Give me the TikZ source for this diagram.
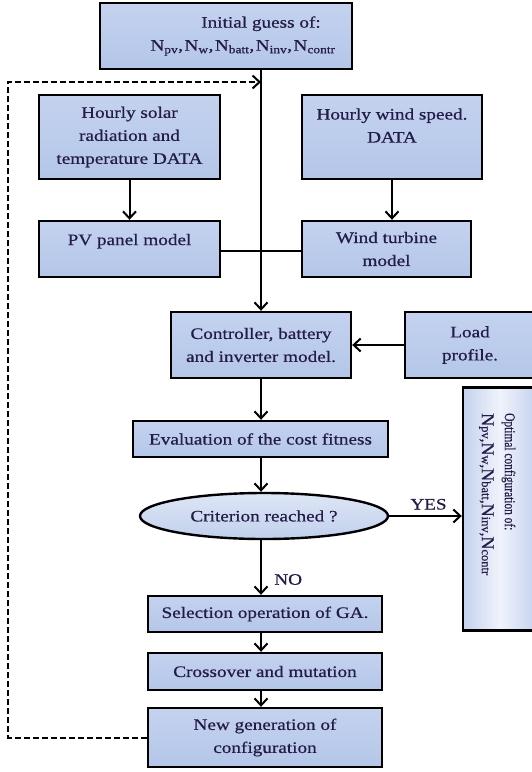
\documentclass[tikz,border=0pt]{standalone}
\usepackage{fontspec}
\setmainfont[FakeStretch=1.2,FakeBold=0.6]{Liberation Serif}
\newfontfamily\condf[FakeStretch=0.76,FakeBold=0.5]{Liberation Serif}
\newfontfamily\plainf[FakeBold=0.5]{Liberation Serif}
\usetikzlibrary{arrows.meta,shapes.geometric}
\definecolor{boxtop}{RGB}{196,210,238}
\definecolor{boxmid}{RGB}{240,243,251}
\definecolor{boxbot}{RGB}{180,198,233}
\definecolor{elltop}{RGB}{222,230,245}
\definecolor{ellfill}{RGB}{192,208,236}
\definecolor{txt}{RGB}{35,28,72}
\newcommand{\bigN}[1]{{\fontsize{18}{18}\selectfont N}{\fontsize{12.5}{12.5}\selectfont #1}}
\begin{document}
\begin{tikzpicture}[x=1pt,y=-1pt,
  every node/.style={font=\fontsize{16}{23}\selectfont, text=txt},
  fbox/.style={draw=black, line width=2.4pt, top color=boxtop, middle color=boxmid, bottom color=boxbot,
    align=center, inner sep=0pt, rectangle},
  conn/.style={line width=2pt, -{Straight Barb[length=7pt,width=13pt,line width=2pt]}},
  plain/.style={line width=2pt},
  dashconn/.style={line width=2pt, dash pattern=on 6pt off 3pt,
    -{Straight Barb[length=7pt,width=13pt,line width=2pt]}}]
\useasboundingbox (0,0) rectangle (531,772);

\node[fbox, minimum width=252pt, minimum height=66pt] (init) at (226,36) {};
\node[align=center, inner sep=0pt] (initt) at (243,36)
  {\hspace*{36pt}Initial guess of:\\N\textsubscript{pv},\hspace{1.5pt}N\textsubscript{w},\hspace{1.5pt}N\textsubscript{batt},\hspace{1.5pt}N\textsubscript{inv},\hspace{1.5pt}N\textsubscript{contr}};
\node[fbox, minimum width=181pt, minimum height=84pt] (solar) at (129.5,137)
  {Hourly solar\\radiation and\\temperature DATA};
\node[fbox, minimum width=180pt, minimum height=84pt] (wind) at (392,137)
  {Hourly wind speed.\\DATA\\\mbox{}};
\node[fbox, minimum width=181pt, minimum height=56pt] (pv) at (129.5,249)
  {PV panel model\\[-4pt]\mbox{}};
\node[fbox, minimum width=169pt, minimum height=56pt] (turb) at (386.5,249)
  {Wind turbine\\model};
\node[fbox, minimum width=180pt, minimum height=66pt] (ctrl) at (261,345)
  {Controller, battery\\and inverter model.};
\node[fbox, minimum width=130pt, minimum height=66pt] (load) at (470,345)
  {Load\\profile.};
\node[fbox, minimum width=255pt, minimum height=36pt] (eval) at (260.5,439)
  {Evaluation of the cost fitness};
\node[draw=black, line width=2.4pt, top color=elltop, bottom color=ellfill,
  shape=ellipse, inner sep=0pt, minimum width=248pt, minimum height=46pt] (crit) at (264,516)
  {Criterion reached ?};
\node[fbox, minimum width=234pt, minimum height=36pt] (sel) at (265,614)
  {Selection operation of GA.};
\node[fbox, minimum width=234pt, minimum height=37pt] (cross) at (265,671.5)
  {Crossover and mutation};
\node[fbox, minimum width=234pt, minimum height=59pt] (newgen) at (265,737.5)
  {New generation of\\configuration};
\node[draw=black, line width=2.4pt, left color=boxtop, right color=boxtop, middle color=boxmid,
  rectangle, minimum width=74pt, minimum height=243pt, inner sep=0pt] (opt) at (500,509) {};
\node[rotate=-90, align=left, font=\fontsize{15}{23}\selectfont\condf, anchor=south west,
  inner sep=0pt] (optt) at (479,413)
  {Optimal configuration of:\\\plainf\bigN{pv},\bigN{w},\bigN{batt},\bigN{inv},\bigN{contr}};

\coordinate (axtop) at (261,69);
\coordinate (loopin) at (261,82);
\coordinate (lx) at (8,82);
\coordinate (ly) at (8,737.5);
\coordinate (hub) at (261,251);

\draw[conn] (axtop) -- (ctrl.north);
\draw[plain] (pv.east |- hub) -- (turb.west |- hub);
\draw[conn] (solar.south) -- (pv.north);
\draw[conn] (wind.south) -- (turb.north -| wind.south);
\draw[conn] (load.west) -- (ctrl.east);
\draw[conn] (ctrl.south) -- (eval.north -| ctrl.south);
\draw[conn] (eval.south -| ctrl.south) -- (crit.north -| ctrl.south);
\draw[conn] (crit.south -| ctrl.south) -- node[pos=0.72, right, xshift=9pt] (no) {NO} (sel.north -| ctrl.south);
\draw[conn] (sel.south -| ctrl.south) -- (cross.north -| ctrl.south);
\draw[conn] (cross.south -| ctrl.south) -- (newgen.north -| ctrl.south);
\draw[conn] (crit.east) -- node[above, yshift=2pt, xshift=3pt] (yes) {YES} (crit.east -| opt.west);
\draw[dashconn] (newgen.west) -- (ly) -- (lx) -- (loopin);
\end{tikzpicture}
\end{document}
